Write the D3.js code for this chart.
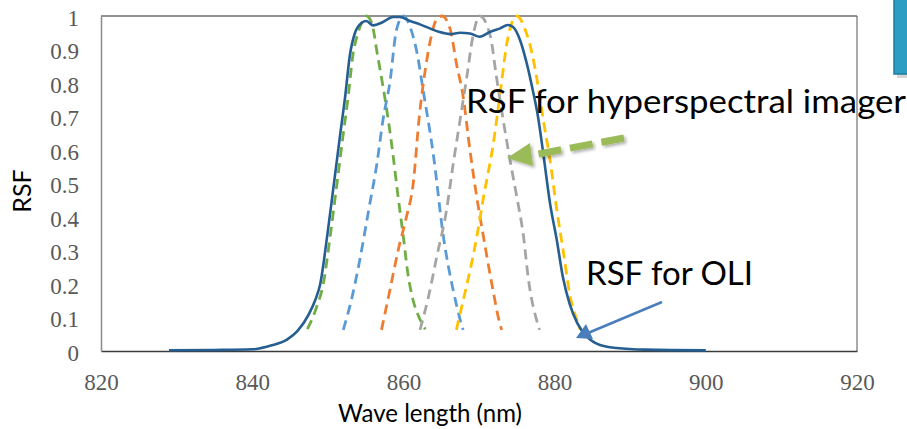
<!DOCTYPE html>
<html>
<head>
<meta charset="utf-8">
<script src="https://cdn.jsdelivr.net/npm/d3@7"></script>
<style>
html,body{margin:0;padding:0;background:#fff;}
svg{display:block;}
</style>
</head>
<body>
<svg id="chart" width="907" height="429"></svg>
<script>
// ---------- data ----------
const xTicks = [820, 840, 860, 880, 900, 920];
const yTicks = [0, 0.1, 0.2, 0.3, 0.4, 0.5, 0.6, 0.7, 0.8, 0.9, 1];
const yTickLabels = ["0", "0.1", "0.2", "0.3", "0.4", "0.5", "0.6", "0.7", "0.8", "0.9", "1"];

// RSF for OLI [wavelength nm, RSF]
const oli = [[829,0.002],[835,0.003],[840,0.005],[842.6,0.017],[844.6,0.034],[846,0.06],[847.5,0.11],[848.3,0.15],
  [849,0.2],[849.9,0.34],[850.7,0.48],[851.6,0.64],[852.3,0.76],[852.9,0.88],[853.6,0.95],[854.5,0.98],[855.1,0.985],
  [856.0,0.972],[857.3,0.982],[858.6,0.997],[859.5,0.997],[860.9,0.985],[862.2,0.975],[863.5,0.963],[864.8,0.952],
  [866.2,0.946],[867.5,0.95],[868.8,0.948],[870.1,0.938],[871.5,0.953],[872.8,0.963],[873.8,0.973],[874.5,0.967],
  [875.4,0.93],[876.3,0.86],[877.1,0.78],[877.8,0.7],[878.5,0.59],[879.4,0.44],[880.3,0.33],[881.1,0.22],[882.0,0.14],
  [883.0,0.083],[884.3,0.042],[886,0.018],[888.2,0.009],[892,0.004],[900,0.002]];

// RSF for hyperspectral imager bands
const bandGreen = [[847.3,0.065],[848.5,0.13],[849.4,0.2],[850.3,0.34],[851.1,0.48],[852.0,0.64],[852.7,0.76],[853.3,0.88],
  [854.0,0.95],[854.6,0.985],[855.1,1.0],[855.8,0.98],[856.6,0.88],[857.3,0.79],[858.0,0.69],[858.6,0.59],[859.3,0.46],
  [860.0,0.34],[860.6,0.23],[861.3,0.15],[861.9,0.11],[862.6,0.077],[862.9,0.065]];
const bandBlue = [[852.05,0.063],[853.2,0.16],[854.3,0.28],[855.4,0.42],[856.5,0.56],[857.3,0.69],[858.2,0.8],[859.1,0.96],
  [860.0,1.0],[861.0,0.96],[861.8,0.89],[862.6,0.78],[864.0,0.58],[865.3,0.34],[866.6,0.18],[867.7,0.078],[867.9,0.063]];
const bandOrange = [[857.1,0.063],[858.2,0.18],[859.3,0.3],[860.4,0.4],[861.3,0.5],[862.1,0.7],[862.9,0.84],[863.5,0.92],
  [864.4,0.99],[865.1,1.0],[866.2,0.96],[867.0,0.86],[867.9,0.76],[868.8,0.6],[869.7,0.46],[870.6,0.34],[871.7,0.2],
  [872.8,0.078],[873.0,0.063]];
const bandGray = [[862.2,0.063],[863.3,0.16],[864.4,0.28],[865.7,0.42],[866.6,0.56],[867.5,0.69],[868.4,0.82],[869.2,0.94],
  [870.1,1.0],[871.5,0.94],[872.3,0.82],[873.2,0.69],[874.1,0.57],[875.0,0.46],[875.9,0.34],[876.5,0.22],[877.8,0.078],[878.0,0.063]];
const bandYellow = [[867.0,0.063],[867.9,0.15],[869.0,0.26],[869.7,0.34],[870.6,0.46],[871.9,0.62],[872.8,0.77],[873.7,0.92],
  [875.0,1.0],[876.1,0.96],[877.0,0.89],[877.6,0.82],[878.5,0.69],[879.4,0.57],[880.3,0.42],[881.2,0.29],[882.0,0.17],
  [883.1,0.083],[883.4,0.063]];

const bands = [
  {data: bandGreen, color: "#70AD47"},
  {data: bandBlue, color: "#5B9BD5"},
  {data: bandOrange, color: "#ED7D31"},
  {data: bandGray, color: "#A5A5A5"},
  {data: bandYellow, color: "#FFC000"}
];

// ---------- layout ----------
const svg = d3.select("#chart");
const L = 101, R = 857, T = 16, B = 351;
const x = d3.scaleLinear().domain([820, 920]).range([L, R]);
const y = d3.scaleLinear().domain([0, 1]).range([B, T]);

// decorative blue box at top right
svg.append("rect").attr("x", 897).attr("y", 2).attr("width", 14).attr("height", 76).attr("fill", "#bbbbbb").attr("opacity", 0.6);
svg.append("rect").attr("x", 894).attr("y", -4).attr("width", 18).attr("height", 78)
  .attr("fill", "#2D9DC4").attr("stroke", "#1D7C9C").attr("stroke-width", 1.5);

// frame
svg.append("line").attr("x1", L).attr("x2", R).attr("y1", T).attr("y2", T).attr("stroke", "#262626").attr("stroke-width", 1.2);
svg.append("line").attr("x1", R).attr("x2", R).attr("y1", T).attr("y2", B).attr("stroke", "#555").attr("stroke-width", 1);

// axes
const xAxis = d3.axisBottom(x).tickValues(xTicks).tickSize(0).tickFormat(d3.format("d"));
const gx = svg.append("g").attr("transform", `translate(0,${B})`).call(xAxis);
gx.select(".domain").attr("stroke", "#3a3a3a").attr("stroke-width", 1.5);
gx.selectAll("text").attr("font-family", "'Liberation Serif', 'Times New Roman', serif").attr("font-size", 23)
  .attr("fill", "#595959").attr("dy", 0).attr("y", 39);

const yAxis = d3.axisLeft(y).tickValues(yTicks).tickSize(0).tickFormat((d, i) => yTickLabels[i]);
const gy = svg.append("g").attr("transform", `translate(${L},0)`).call(yAxis);
gy.select(".domain").attr("stroke", "#8c8c8c").attr("stroke-width", 1.5);
gy.selectAll("text").attr("font-family", "'Liberation Serif', 'Times New Roman', serif").attr("font-size", 23)
  .attr("fill", "#595959").attr("x", -22).attr("dy", 9);

// lines
const line = d3.line().x(d => x(d[0])).y(d => y(d[1])).curve(d3.curveMonotoneX);

bands.forEach(b => {
  svg.append("path").datum(b.data).attr("d", line).attr("fill", "none")
    .attr("stroke", b.color).attr("stroke-width", 2.8).attr("stroke-dasharray", "10,6");
});

svg.append("path").datum(oli).attr("d", line).attr("fill", "none")
  .attr("stroke", "#255E91").attr("stroke-width", 2.6);

// axis titles
const sans = "Lato, 'Open Sans', 'Noto Sans', sans-serif";
svg.append("text").attr("x", 338).attr("y", 422).attr("font-family", sans).attr("font-size", 25)
  .attr("fill", "#000").attr("textLength", 184).attr("lengthAdjust", "spacingAndGlyphs").text("Wave length (nm)");
svg.append("text").attr("transform", "translate(31,191) rotate(-90)").attr("text-anchor", "middle")
  .attr("font-family", sans).attr("font-size", 25).attr("fill", "#000").text("RSF");

// annotations
svg.append("text").attr("x", 466).attr("y", 113).attr("font-family", sans).attr("font-size", 32)
  .attr("fill", "#000").attr("textLength", 440).attr("lengthAdjust", "spacingAndGlyphs").text("RSF for hyperspectral imager");
svg.append("text").attr("x", 586).attr("y", 285).attr("font-family", sans).attr("font-size", 32)
  .attr("fill", "#000").attr("textLength", 167).attr("lengthAdjust", "spacingAndGlyphs").text("RSF for OLI");

// green dashed arrow (with soft shadow)
const defs = svg.append("defs");
const f = defs.append("filter").attr("id", "sh").attr("x", "-20%").attr("y", "-50%").attr("width", "140%").attr("height", "200%");
f.append("feDropShadow").attr("dx", 2).attr("dy", 2).attr("stdDeviation", 1.5).attr("flood-color", "#000").attr("flood-opacity", 0.3);
const ga = svg.append("g").attr("filter", "url(#sh)");
ga.append("line").attr("x1", 624).attr("y1", 138).attr("x2", 533).attr("y2", 155)
  .attr("stroke", "#9BBB59").attr("stroke-width", 7).attr("stroke-dasharray", "23,9");
ga.append("polygon").attr("points", "507,158 530,143 533,166").attr("fill", "#9BBB59");

// blue arrow
svg.append("line").attr("x1", 662).attr("y1", 302).attr("x2", 588).attr("y2", 333)
  .attr("stroke", "#4A7EBB").attr("stroke-width", 2.5);
svg.append("polygon").attr("points", "576,338 586,324 593,339").attr("fill", "#4A7EBB");
</script>
</body>
</html>
